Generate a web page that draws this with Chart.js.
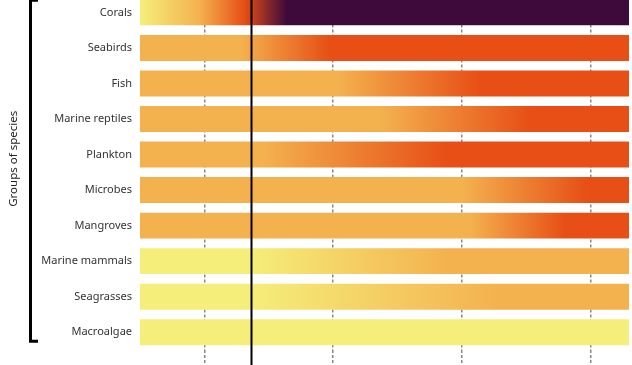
<!DOCTYPE html>
<html>
<head>
<meta charset="utf-8">
<script src="https://cdn.jsdelivr.net/npm/chart.js@4"></script>
<style>
  html, body { margin: 0; padding: 0; background: #fff; overflow: hidden; }
  #wrap { position: relative; width: 632px; height: 387px; margin-top: -20px; }
</style>
</head>
<body>
<div id="wrap"><canvas id="riskChart"></canvas></div>
<script>
const categories = ['Corals', 'Seabirds', 'Fish', 'Marine reptiles', 'Plankton',
  'Microbes', 'Mangroves', 'Marine mammals', 'Seagrasses', 'Macroalgae'];

// every bar runs over the whole range
const barRange = [0.5, 4.3];
const gridTicks = [1, 2, 3, 4];
const currentLevel = 1.36;

// risk colours: undetectable, moderate, high, very high
const riskColors = ['#f5ee7a', '#f4b24f', '#e74f16', '#3d0a3b'];

// [value, risk level] transitions per category
const transitions = [
  [[0.5, 0], [0.96, 1], [1.31, 2], [1.64, 3]],
  [[0.5, 1], [1.28, 1], [1.97, 2]],
  [[0.5, 1], [2.03, 1], [3.14, 2]],
  [[0.5, 1], [2.36, 1], [3.53, 2]],
  [[0.5, 1], [1.45, 1], [2.88, 2]],
  [[0.5, 1], [3.0, 1], [3.97, 2]],
  [[0.5, 1], [3.06, 1], [3.8, 2]],
  [[0.5, 0], [1.35, 0], [2.88, 1]],
  [[0.5, 0], [1.35, 0], [3.27, 1]],
  [[0.5, 0]]
];

const FONT = "'Noto Sans', sans-serif";

function barGradient(context) {
  const chart = context.chart;
  const x = chart.scales.x;
  const stops = transitions[context.dataIndex];
  if (!chart.chartArea || !x || !stops) return riskColors[1];
  const x0 = x.getPixelForValue(barRange[0]);
  const x1 = x.getPixelForValue(barRange[1]);
  const g = chart.ctx.createLinearGradient(x0, 0, x1, 0);
  const span = barRange[1] - barRange[0];
  stops.forEach(([v, lvl]) => {
    g.addColorStop(Math.min(1, Math.max(0, (v - barRange[0]) / span)), riskColors[lvl]);
  });
  return g;
}

const overlay = {
  id: 'overlay',
  afterDatasetsDraw(chart) {
    const { ctx, scales: { x, y } } = chart;
    ctx.save();
    // present-day line
    const px = Math.round(x.getPixelForValue(currentLevel)) + 0.5;
    ctx.strokeStyle = '#000';
    ctx.lineWidth = 2;
    ctx.beginPath();
    ctx.moveTo(px, 0);
    ctx.lineTo(px, chart.height);
    ctx.stroke();

    // bracket on the left
    const top = y.getPixelForValue(0) - 12;
    const bottom = y.getPixelForValue(categories.length - 1) + 9;
    ctx.lineWidth = 3;
    ctx.beginPath();
    ctx.moveTo(38, top);
    ctx.lineTo(30.5, top);
    ctx.lineTo(30.5, bottom);
    ctx.lineTo(38, bottom);
    ctx.stroke();

    // axis title
    ctx.translate(14, y.getPixelForValue(4.5) - 13.5);
    ctx.rotate(-Math.PI / 2);
    ctx.font = '11.5px ' + FONT;
    ctx.fillStyle = '#222';
    ctx.textAlign = 'center';
    ctx.textBaseline = 'middle';
    ctx.fillText('Groups of species', 0, 0);
    ctx.restore();
  }
};

new Chart(document.getElementById('riskChart'), {
  type: 'bar',
  data: {
    labels: categories,
    datasets: [{
      data: categories.map(() => barRange),
      backgroundColor: barGradient,
      borderWidth: 0,
      borderSkipped: false,
      barPercentage: 0.73,
      categoryPercentage: 1
    }]
  },
  options: {
    indexAxis: 'y',
    responsive: true,
    maintainAspectRatio: false,
    animation: false,
    layout: { padding: { top: 0, right: 3, left: 0, bottom: 0 } },
    plugins: {
      legend: { display: false },
      tooltip: { enabled: false }
    },
    scales: {
      x: {
        min: barRange[0],
        max: barRange[1],
        afterBuildTicks: (s) => { s.ticks = gridTicks.map(v => ({ value: v })); },
        border: { display: false, dash: [3, 2] },
        grid: {
          color: '#888',
          lineWidth: 1.5,
          tickBorderDash: [3, 2],
          tickLength: 17,
          drawTicks: true
        },
        ticks: { display: false }
      },
      y: {
        afterFit: (s) => { s.width = 140; },
        border: { display: false },
        grid: { display: false, drawTicks: false },
        ticks: {
          padding: 8,
          color: '#333',
          font: { size: 11, family: FONT }
        }
      }
    }
  },
  plugins: [overlay]
});
</script>
</body>
</html>
